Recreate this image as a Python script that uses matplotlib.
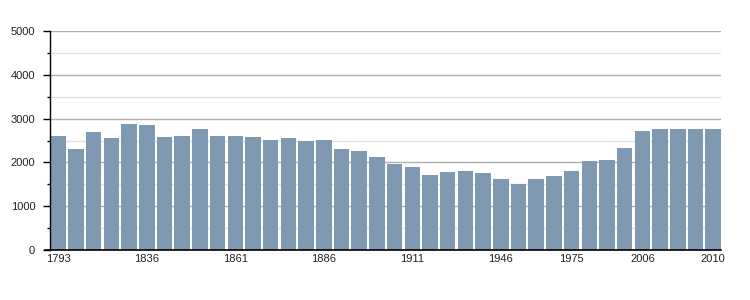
import matplotlib
matplotlib.use("Agg")
import matplotlib.pyplot as plt
from matplotlib.ticker import MultipleLocator

years = [1793, 1800, 1806, 1821, 1831, 1836, 1841, 1846, 1851, 1856,
         1861, 1866, 1872, 1876, 1881, 1886, 1891, 1896, 1901, 1906,
         1911, 1921, 1926, 1931, 1936, 1946, 1954, 1962, 1968, 1975,
         1982, 1990, 1999, 2006, 2007, 2008, 2009, 2010]
population = [2600, 2306, 2694, 2557, 2877, 2854, 2580, 2603, 2763, 2603,
              2603, 2580, 2511, 2557, 2488, 2511, 2306, 2260, 2123, 1963,
              1895, 1712, 1781, 1804, 1758, 1621, 1507, 1621, 1690, 1804,
              2032, 2055, 2329, 2717, 2763, 2763, 2763, 2763]
labelled_years = [1793, 1836, 1861, 1886, 1911, 1946, 1975, 2006, 2010]

plt.rcParams['font.family'] = ['Liberation Sans', 'DejaVu Sans']

fig = plt.figure(figsize=(7.5, 3.0), dpi=100)
ax = fig.add_axes([50.5 / 750, 50 / 300, (721 - 50.5) / 750, 219 / 300])

x = list(range(len(years)))
w = 0.88
ax.bar(x, population, width=w, color='#7f99b2', zorder=2)

ax.set_xlim(-w / 2, len(years) - 1 + w / 2)
ax.set_ylim(0, 5000)

ax.yaxis.set_major_locator(MultipleLocator(1000))
ax.yaxis.set_minor_locator(MultipleLocator(500))
ax.grid(axis='y', which='major', color='#b0b0b0', linewidth=1.0, zorder=0)
ax.grid(axis='y', which='minor', color='#e3e3e3', linewidth=1.0, zorder=0)

tick_pos = [years.index(y) for y in labelled_years]
ax.set_xticks(tick_pos)
ax.set_xticklabels([str(y) for y in labelled_years])
ax.tick_params(axis='x', length=0, pad=3, labelsize=8, colors='#222222')
ax.tick_params(axis='y', which='major', length=5, width=1, pad=6,
               labelsize=8, colors='black', labelcolor='#222222')
ax.tick_params(axis='y', which='minor', length=2.5, width=1, colors='black')

for s in ['top', 'right']:
    ax.spines[s].set_visible(False)
ax.spines['left'].set_color('black')
ax.spines['bottom'].set_color('black')
ax.spines['left'].set_linewidth(1)
ax.spines['bottom'].set_linewidth(1.2)
ax.spines['bottom'].set_bounds(-w / 2 - 0.3, len(years) - 1 + w / 2)
ax.spines['bottom'].set_zorder(3)

fig.savefig('out.png', dpi=100)
